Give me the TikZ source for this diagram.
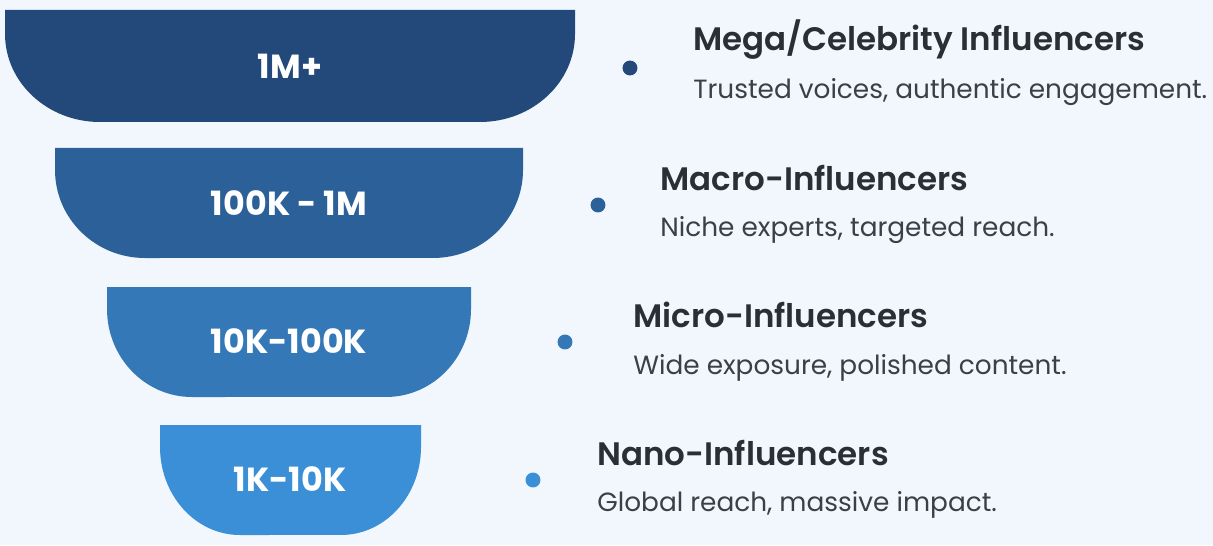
\documentclass[tikz,border=0pt]{standalone}
\usepackage{fontspec}
\setmainfont{Poppins}
\newfontfamily\semibold{Poppins SemiBold}
\usepackage{tikz}
\usetikzlibrary{positioning}
\definecolor{bgblue}{RGB}{241,247,253}
\definecolor{tierone}{RGB}{35,72,122}
\definecolor{tiertwo}{RGB}{43,96,152}
\definecolor{tierthree}{RGB}{52,120,184}
\definecolor{tierfour}{RGB}{58,143,214}
\definecolor{titlegray}{RGB}{43,46,52}
\definecolor{descgray}{RGB}{60,64,70}
\tikzset{
  tier-label/.style={text=white, font=\fontsize{19}{22}\selectfont\bfseries, inner sep=0pt},
  tier-dot/.style={circle, inner sep=0pt, minimum size=8.5pt},
  tier-title/.style={anchor=west, inner sep=0pt, text=titlegray, font=\fontsize{18.5}{22}\semibold},
  tier-desc/.style={anchor=west, inner sep=0pt, text=descgray, font=\fontsize{15}{18}\selectfont}
}

\begin{document}
\begin{tikzpicture}[x=0.02cm, y=0.02cm]
% Canvas
\fill[bgblue] (0,0) rectangle (1213,545);
\useasboundingbox (0,0) rectangle (1213,545);

% Funnel tiers
\fill[tierone] (5,535) -- (575,535) -- (575,511)
  arc[start angle=0, end angle=-90, x radius=1.9cm, y radius=1.76cm] -- (100,423)
  arc[start angle=270, end angle=180, x radius=1.9cm, y radius=1.76cm] -- cycle;
\fill[tiertwo] (55,397) -- (523,397) -- (523,375)
  arc[start angle=0, end angle=-90, x radius=1.8cm, y radius=1.76cm] -- (145,287)
  arc[start angle=270, end angle=180, x radius=1.8cm, y radius=1.76cm] -- cycle;
\fill[tierthree] (107,258) -- (471,258) -- (471,236)
  arc[start angle=0, end angle=-90, x radius=1.7cm, y radius=1.76cm] -- (192,148)
  arc[start angle=270, end angle=180, x radius=1.7cm, y radius=1.76cm] -- cycle;
\fill[tierfour] (160,120) -- (421,120) -- (421,98)
  arc[start angle=0, end angle=-90, x radius=1.6cm, y radius=1.76cm] -- (240,10)
  arc[start angle=270, end angle=180, x radius=1.6cm, y radius=1.76cm] -- cycle;

% Tier labels
\node[tier-label] (tier1) at (290,479) {1M+};
\node[tier-label] (tier2) at (289,342) {100K - 1M};
\node[tier-label] (tier3) at (289,204) {10K-100K};
\node[tier-label] (tier4) at (290,66) {1K-10K};

% Bullets
\node[tier-dot, fill=tierone] (dot1) at (630,477) {};
\node[tier-dot, fill=tiertwo] (dot2) at (598,340) {};
\node[tier-dot, fill=tierthree] (dot3) at (565,203) {};
\node[tier-dot, fill=tierfour] (dot4) at (533,65) {};

% Titles and descriptions
\node[tier-title] (title1) at (693,505) {Mega/Celebrity Influencers};
\node[tier-desc] (desc1) at (693,453) {Trusted voices, authentic engagement.};
\node[tier-title] (title2) at (660,367) {Macro-Influencers};
\node[tier-desc] (desc2) at (660,315) {Niche experts, targeted reach.};
\node[tier-title] (title3) at (633,230) {Micro-Influencers};
\node[tier-desc] (desc3) at (633,177) {Wide exposure, polished content.};
\node[tier-title] (title4) at (597,92) {Nano-Influencers};
\node[tier-desc] (desc4) at (597,40) {Global reach, massive impact.};
\end{tikzpicture}
\end{document}
